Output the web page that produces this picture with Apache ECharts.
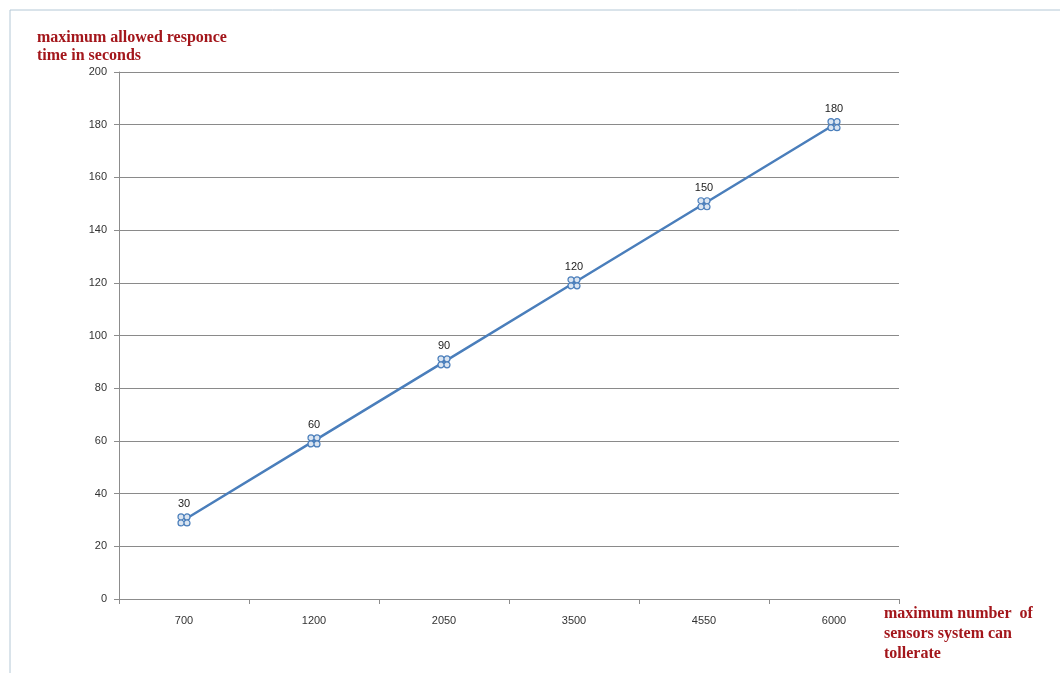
<!DOCTYPE html>
<html>
<head>
<meta charset="utf-8">
<script src="https://cdn.jsdelivr.net/npm/echarts@6/dist/echarts.min.js"></script>
<style>
  html, body { margin: 0; padding: 0; background: #fff; }
  #chart { width: 1060px; height: 673px; }
</style>
</head>
<body>
<div id="chart"></div>
<script>
// sensors vs allowed response time
var sensorCounts = ['700', '1200', '2050', '3500', '4550', '6000'];
var responseTimes = [30, 60, 90, 120, 150, 180];
var yTicks = { min: 0, max: 200, step: 20 };

var red = '#a3161b';
var blue = '#4a7ebb';
var grey = '#8c8c8c';
var titleFont = '"Liberation Serif", "DejaVu Serif", serif';

// four small rings, like the excel marker
var marker = 'path://M0,2.5a2.5,2.5 0 1,0 5,0a2.5,2.5 0 1,0 -5,0Z' +
  'M5,2.5a2.5,2.5 0 1,0 5,0a2.5,2.5 0 1,0 -5,0Z' +
  'M0,7.5a2.5,2.5 0 1,0 5,0a2.5,2.5 0 1,0 -5,0Z' +
  'M5,7.5a2.5,2.5 0 1,0 5,0a2.5,2.5 0 1,0 -5,0Z';

var chart = echarts.init(document.getElementById('chart'), null, { renderer: 'canvas' });
chart.setOption({
  animation: false,
  backgroundColor: '#fff',
  grid: { left: 119, right: 161, top: 72, bottom: 74 },
  graphic: [
    { type: 'line', shape: { x1: 10, y1: 10, x2: 1060, y2: 10 }, style: { stroke: '#b4c8d6', lineWidth: 1 } },
    { type: 'line', shape: { x1: 10, y1: 10, x2: 10, y2: 673 }, style: { stroke: '#b4c8d6', lineWidth: 1 } },
    {
      type: 'text', left: 37, top: 29,
      style: { text: 'maximum allowed responce\ntime in seconds', fill: red, font: 'bold 16px ' + titleFont, lineHeight: 18 }
    },
    {
      type: 'text', left: 884, top: 604,
      style: { text: 'maximum number  of\nsensors system can\ntollerate', fill: red, font: 'bold 16px ' + titleFont, lineHeight: 20 }
    }
  ],
  xAxis: {
    type: 'category',
    data: sensorCounts,
    boundaryGap: true,
    axisLine: { lineStyle: { color: grey } },
    axisTick: { show: true, length: 5, lineStyle: { color: grey } },
    axisLabel: { color: '#333', fontSize: 11, margin: 16, fontFamily: 'Arial, "Liberation Sans", sans-serif' },
    splitLine: { show: false }
  },
  yAxis: {
    type: 'value',
    min: yTicks.min,
    max: yTicks.max,
    interval: yTicks.step,
    axisLine: { show: true, lineStyle: { color: grey } },
    axisTick: { show: true, length: 5, lineStyle: { color: grey } },
    axisLabel: { color: '#333', fontSize: 11, margin: 12, fontFamily: 'Arial, "Liberation Sans", sans-serif' },
    splitLine: { lineStyle: { color: '#8a8a8a', width: 1 } }
  },
  series: [{
    type: 'line',
    data: responseTimes,
    symbol: marker,
    symbolSize: 12,
    showAllSymbol: true,
    lineStyle: { color: blue, width: 2.5 },
    itemStyle: { color: '#dbe5f1', borderColor: blue, borderWidth: 1.2 },
    label: {
      show: true,
      position: 'top',
      distance: 4,
      color: '#222',
      fontSize: 11,
      fontFamily: 'Arial, "Liberation Sans", sans-serif'
    }
  }]
});
</script>
</body>
</html>
